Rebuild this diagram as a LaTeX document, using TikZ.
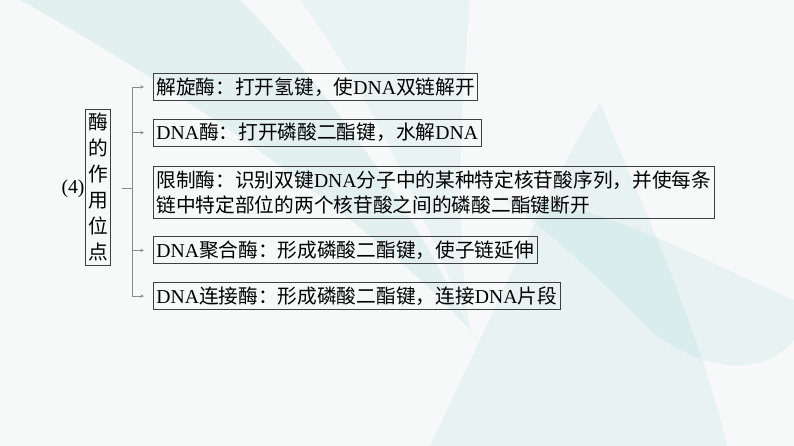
\documentclass[tikz,border=0pt]{standalone}
\usepackage{fontspec}
\setmainfont{Liberation Serif}
\newfontfamily\cjk{Noto Sans CJK SC}
\newcommand\zh[1]{{\cjk #1}}
\usetikzlibrary{positioning}
\definecolor{bgwhite}{HTML}{F7F8F8}
\definecolor{leaf}{HTML}{7CCACA}
\definecolor{boxline}{HTML}{404040}
\definecolor{braceline}{HTML}{8A8A8A}
\tikzset{
  enz/.style={draw=boxline,line width=.8pt,inner xsep=3pt,inner ysep=1pt,minimum height=27pt,align=left},
  fork/.style={draw=braceline,line width=.6pt},
  tick/.style={fork,->,shorten >=9pt}
}
\begin{document}
\begin{tikzpicture}[x=1pt,y=-1pt,>=stealth,font=\fontsize{19.7}{25}\selectfont]
\fill[bgwhite](0,0)rectangle(794,446);
\begin{scope}
\clip(0,0)rectangle(794,446);
\fill[leaf,opacity=.16](20,0)--(240,0)..controls(330,90)and(420,220)..(470,330)..controls(380,230)and(200,100)..cycle;
\fill[leaf,opacity=.1](300,0)--(470,0)..controls(460,120)and(455,230)..(470,330)..controls(420,200)and(360,80)..cycle;
\fill[leaf,opacity=.12](600,103)..controls(640,200)and(700,330)..(727,446)--(430,446)..controls(500,300)and(560,160)..cycle;
\fill[leaf,opacity=.12](500,197)..controls(600,200)and(700,260)..(794,300)--(794,340)..controls(760,380)and(700,370)..(650,330)..controls(600,280)and(550,230)..cycle;
\end{scope}
\node[draw=boxline,line width=.8pt,align=center,inner xsep=2.5pt,minimum height=156pt,font=\fontsize{19.7}{26}\selectfont\cjk](title)at(98,187){酶\\的\\作\\用\\位\\点};
\node[left=0pt of title,inner sep=.5pt,yshift=-2pt](num){(4)};
\node[enz,anchor=north west](b1)at(153,73){\zh{解旋酶：打开氢键，使}DNA\zh{双链解开}};
\node[enz,below=18pt of b1.south west,anchor=north west](b2){DNA\zh{酶：打开磷酸二酯键，水解}DNA};
\node[enz,below=19pt of b2.south west,anchor=north west,minimum height=52pt](b3){\zh{限制酶：识别双键}DNA\zh{分子中的某种特定核苷酸序列，并使每条}\\\zh{链中特定部位的两个核苷酸之间的磷酸二酯键断开}};
\node[enz,below=18pt of b3.south west,anchor=north west](b4){DNA\zh{聚合酶：形成磷酸二酯键，使子链延伸}};
\node[enz,below=18pt of b4.south west,anchor=north west](b5){DNA\zh{连接酶：形成磷酸二酯键，连接}DNA\zh{片段}};
\coordinate(split)at(132,188);
\draw[fork]([xshift=11pt]title.east|-split)--(split);
\draw[fork](split|-b1.west)--(split|-b5.west);
\foreach \b in {b1,b2,b4,b5}
  \draw[tick](split|-\b.west)--(\b.west);
\end{tikzpicture}
\end{document}
